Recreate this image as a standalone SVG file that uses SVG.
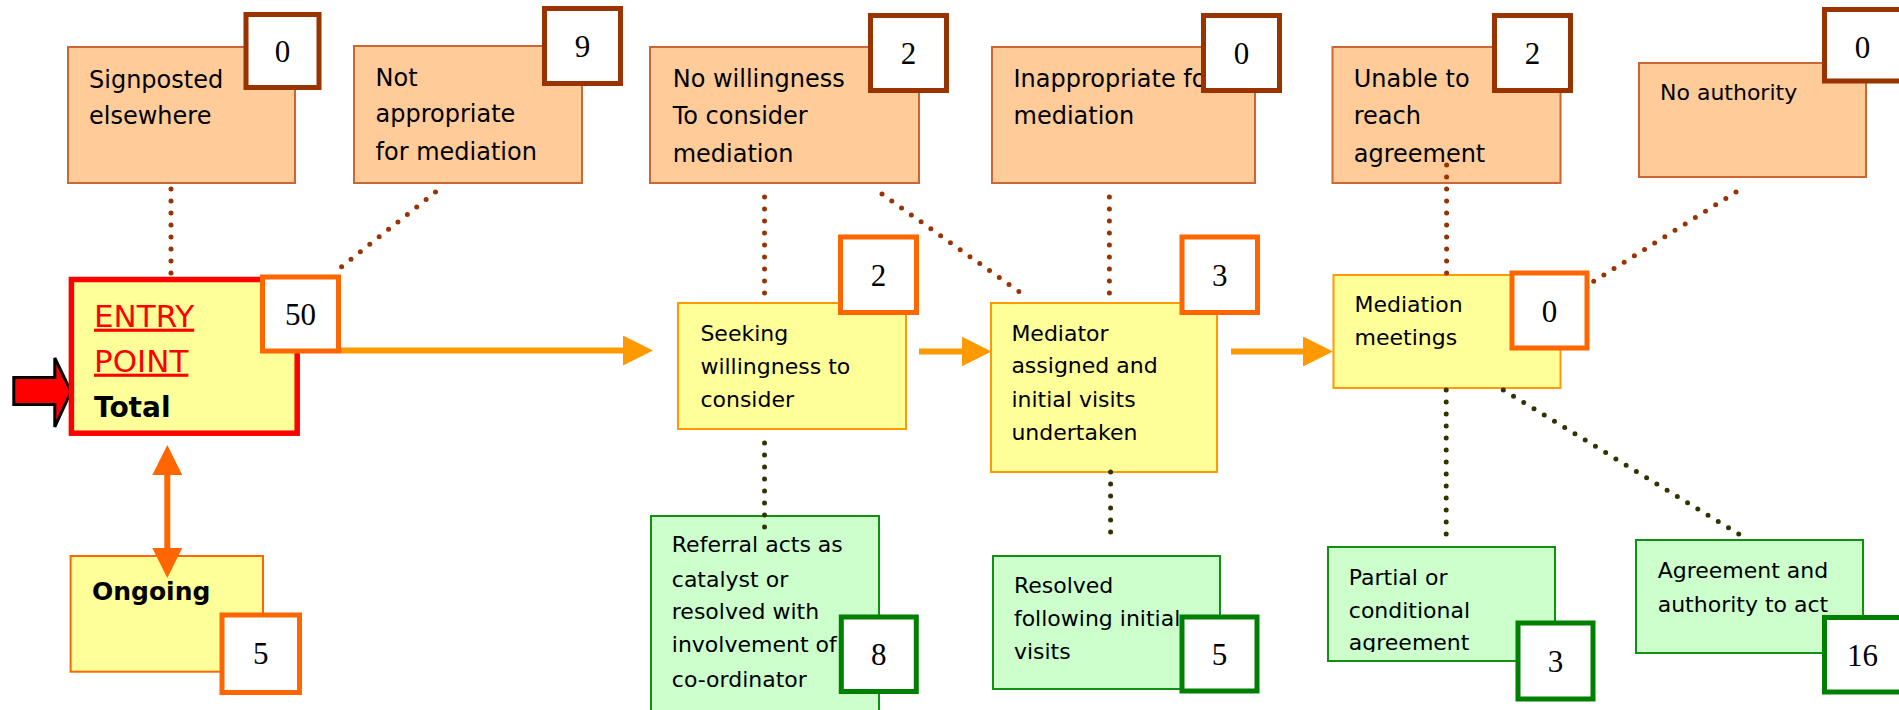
<svg xmlns="http://www.w3.org/2000/svg" width="1899" height="710" viewBox="0 0 1899 710">
<style>
.ob{fill:#FFCC99;stroke:#CC6633;stroke-width:2}
.yb{fill:#FFFF99;stroke:#FF9900;stroke-width:2}
.ogb{fill:#FFFF99;stroke:#FF6600;stroke-width:2}
.gb{fill:#CCFFCC;stroke:#109010;stroke-width:2}
.ct{fill:#FFFFFF;stroke:#993300;stroke-width:5}
.cm{fill:#FFFFFF;stroke:#FF6600;stroke-width:5}
.cg{fill:#FFFFFF;stroke:#008000;stroke-width:5}
.t24{font-family:"DejaVu Sans",sans-serif;font-size:24px;fill:#000}
.t22{font-family:"DejaVu Sans",sans-serif;font-size:22px;fill:#000}
.num{font-family:"Liberation Serif","Times New Roman",serif;font-size:31px;fill:#000;text-anchor:middle}
.dt{fill:none;stroke:#993300;stroke-width:5;stroke-linecap:round;stroke-dasharray:0 12}
.db{fill:none;stroke:#333300;stroke-width:5;stroke-linecap:round;stroke-dasharray:0 12}
.ar{fill:none;stroke:#FF9900;stroke-width:6}
.ar2{fill:none;stroke:#FF6600;stroke-width:6}
</style>
<defs>
<marker id="headY" markerUnits="userSpaceOnUse" markerWidth="30" markerHeight="30" viewBox="0 0 30 30" refX="2" refY="15" orient="auto">
<path d="M0,0 L30,15 L0,30 z" fill="#FF9900"/>
</marker>
<marker id="headO" markerUnits="userSpaceOnUse" markerWidth="30" markerHeight="30" viewBox="0 0 30 30" refX="2" refY="15" orient="auto-start-reverse">
<path d="M0,0 L30,15 L0,30 z" fill="#FF6600"/>
</marker>
<clipPath id="clipPartial"><rect x="1328" y="547" width="227" height="105"/></clipPath>
</defs>

<!-- Top row: outcomes (orange) -->
<g id="signposted">
<rect class="ob" x="68" y="47" width="227" height="136"/>
<text class="t24"><tspan x="89" y="88">Signposted</tspan><tspan x="89" y="124">elsewhere</tspan></text>
<rect class="ct" x="246" y="14.5" width="73" height="73"/>
<text class="num" x="282.5" y="62">0</text>
</g>
<g id="not-appropriate">
<rect class="ob" x="354" y="46" width="228" height="137"/>
<text class="t24"><tspan x="375.5" y="86">Not</tspan><tspan x="375.5" y="122">appropriate</tspan><tspan x="375.5" y="160">for mediation</tspan></text>
<rect class="ct" x="544.5" y="8.5" width="76" height="75"/>
<text class="num" x="582.5" y="57">9</text>
</g>
<g id="no-willingness">
<rect class="ob" x="650" y="47" width="269" height="136"/>
<text class="t24"><tspan x="672.7" y="87">No willingness</tspan><tspan x="672.7" y="124">To consider</tspan><tspan x="672.7" y="162">mediation</tspan></text>
<rect class="ct" x="870.5" y="15.5" width="76" height="75"/>
<text class="num" x="908.5" y="64">2</text>
</g>
<g id="inappropriate">
<rect class="ob" x="992" y="47" width="263" height="136"/>
<text class="t24"><tspan x="1013.5" y="87">Inappropriate for</tspan><tspan x="1013.5" y="124">mediation</tspan></text>
<rect class="ct" x="1203.5" y="15.5" width="76" height="75"/>
<text class="num" x="1241.5" y="64">0</text>
</g>
<g id="unable">
<rect class="ob" x="1332.5" y="47" width="228" height="136"/>
<text class="t24"><tspan x="1353.7" y="87">Unable to</tspan><tspan x="1353.7" y="124">reach</tspan><tspan x="1353.7" y="161.7">agreement</tspan></text>
<rect class="ct" x="1494.5" y="15.5" width="76" height="75"/>
<text class="num" x="1532.5" y="64">2</text>
</g>
<g id="no-authority">
<rect class="ob" x="1639" y="63" width="227" height="114"/>
<text class="t22" x="1660" y="100">No authority</text>
<rect class="ct" x="1824.5" y="9.5" width="77" height="71.5"/>
<text class="num" x="1862.5" y="57.5">0</text>
</g>

<!-- Middle row: process (yellow) -->
<g id="entry-arrow">
<polygon points="13.8,377.5 54.8,377.5 54.8,358 71,391.5 54.8,427 54.8,404.5 13.8,404.5" fill="#FF0000" stroke="#000000" stroke-width="3"/>
</g>
<g id="entry-point">
<rect x="71.4" y="279.5" width="225.8" height="153.7" fill="#FFFF99" stroke="#FF0000" stroke-width="5.5"/>
<text font-family="DejaVu Sans,sans-serif" font-size="31" fill="#FF0000" text-decoration="underline"><tspan x="94" y="326.7">ENTRY</tspan><tspan x="94" y="371.7">POINT</tspan></text>
<text font-family="DejaVu Sans,sans-serif" font-size="28" font-weight="bold" fill="#000" x="94" y="416.7">Total</text>
<rect class="cm" x="262.5" y="277" width="76" height="74"/>
<text class="num" x="300.5" y="325">50</text>
</g>
<g id="ongoing">
<rect class="ogb" x="70.6" y="556" width="192.4" height="115.7"/>
<text font-family="DejaVu Sans,sans-serif" font-size="25" font-weight="bold" fill="#000" x="92" y="600">Ongoing</text>
<rect class="cm" x="222" y="615" width="77.5" height="77.5"/>
<text class="num" x="260.75" y="664">5</text>
</g>
<g id="seeking">
<rect class="yb" x="678" y="303" width="228" height="126"/>
<text class="t22"><tspan x="700.4" y="340.5">Seeking</tspan><tspan x="700.4" y="374">willingness to</tspan><tspan x="700.4" y="407.3">consider</tspan></text>
<rect class="cm" x="840.5" y="237" width="76" height="75.5"/>
<text class="num" x="878.5" y="285.8">2</text>
</g>
<g id="mediator">
<rect class="yb" x="991" y="303" width="226" height="169"/>
<text class="t22"><tspan x="1011.4" y="340.7">Mediator</tspan><tspan x="1011.4" y="373.3">assigned and</tspan><tspan x="1011.4" y="407.3">initial visits</tspan><tspan x="1011.4" y="440">undertaken</tspan></text>
<rect class="cm" x="1182" y="237" width="75.5" height="75.5"/>
<text class="num" x="1219.75" y="285.8">3</text>
</g>
<g id="mediation-meetings">
<rect class="yb" x="1333.5" y="275" width="227" height="113"/>
<text class="t22"><tspan x="1354.5" y="311.7">Mediation</tspan><tspan x="1354.5" y="345">meetings</tspan></text>
<rect class="cm" x="1512" y="273" width="75" height="75"/>
<text class="num" x="1549.5" y="321.5">0</text>
</g>

<!-- Bottom row: results (green) -->
<g id="referral">
<rect class="gb" x="651" y="516" width="228" height="210"/>
<text class="t22"><tspan x="671.8" y="551.7">Referral acts as</tspan><tspan x="671.8" y="586.7">catalyst or</tspan><tspan x="671.8" y="619.3">resolved with</tspan><tspan x="671.8" y="651.7">involvement of</tspan><tspan x="671.8" y="686.7">co-ordinator</tspan></text>
<rect class="cg" x="841.3" y="617" width="75" height="74.5"/>
<text class="num" x="878.8" y="665">8</text>
</g>
<g id="resolved">
<rect class="gb" x="993" y="556" width="227" height="133"/>
<text class="t22"><tspan x="1013.9" y="592.7">Resolved</tspan><tspan x="1013.9" y="626">following initial</tspan><tspan x="1013.9" y="659.3">visits</tspan></text>
<rect class="cg" x="1182" y="617" width="75" height="74"/>
<text class="num" x="1219.5" y="665">5</text>
</g>
<g id="partial">
<rect class="gb" x="1328" y="547" width="227" height="114"/>
<text class="t22" clip-path="url(#clipPartial)"><tspan x="1348.8" y="585">Partial or</tspan><tspan x="1348.8" y="617.7">conditional</tspan><tspan x="1348.8" y="650">agreement</tspan></text>
<rect class="cg" x="1518" y="623" width="75" height="76"/>
<text class="num" x="1555.5" y="672">3</text>
</g>
<g id="agreement">
<rect class="gb" x="1636" y="540" width="227" height="113"/>
<text class="t22"><tspan x="1657.7" y="577.7">Agreement and</tspan><tspan x="1657.7" y="611.7">authority to act</tspan></text>
<rect class="cg" x="1824.5" y="617.5" width="77" height="74.5"/>
<text class="num" x="1862.5" y="665.5">16</text>
</g>

<!-- Connectors -->
<g id="connectors">
<path class="ar" d="M341,350.5 H625" marker-end="url(#headY)"/>
<path class="ar" d="M919,351.5 H963.5" marker-end="url(#headY)"/>
<path class="ar" d="M1231,351.5 H1305" marker-end="url(#headY)"/>
<path class="ar2" d="M167.3,473 V550" marker-start="url(#headO)" marker-end="url(#headO)"/>
<path class="dt" d="M171,189 V275"/>
<path class="dt" d="M435.5,192 L340,268"/>
<path class="dt" d="M764.5,197 V295"/>
<path class="dt" d="M882,194 L1021,293"/>
<path class="dt" d="M1109.4,197 V295"/>
<path class="dt" d="M1446.6,165 V275"/>
<path class="dt" d="M1736,192 L1591,283"/>
<path class="db" d="M764.5,443 V538"/>
<path class="db" d="M1110.6,472 V533"/>
<path class="db" d="M1446.2,390 V538"/>
<path class="db" d="M1503.3,390 L1742,536"/>
</g>
</svg>
